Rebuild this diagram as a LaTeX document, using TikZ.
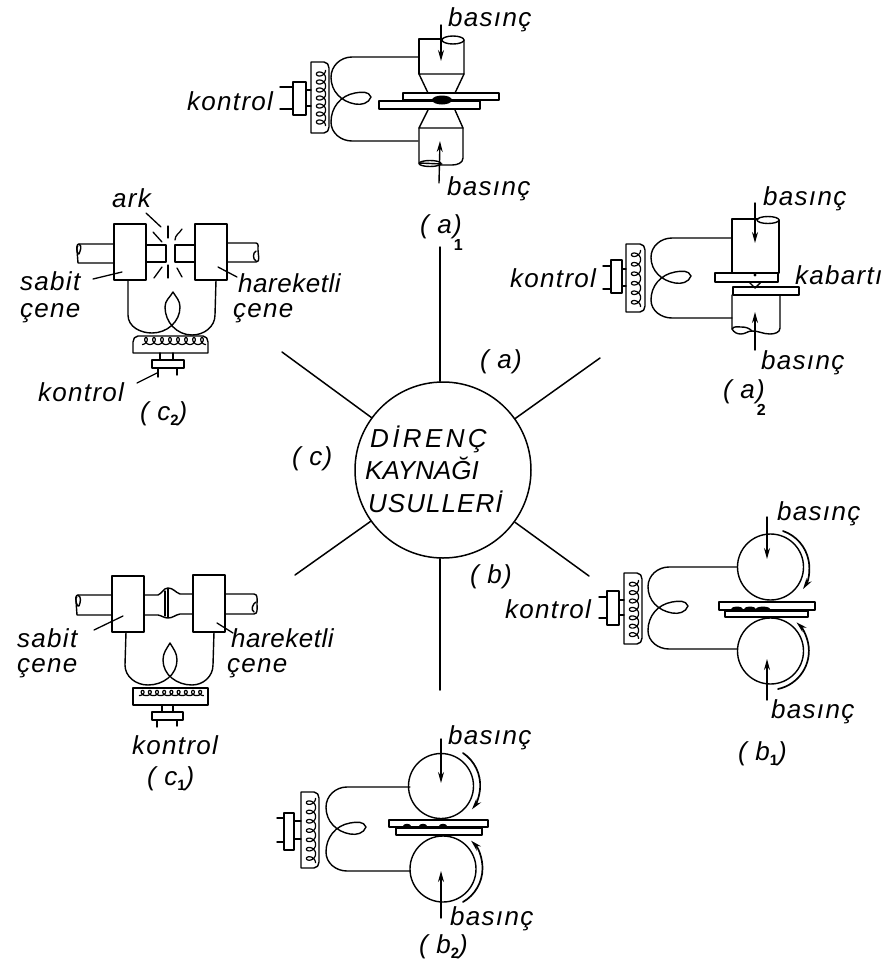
\documentclass[tikz,border=0pt]{standalone}
\usepackage{fontspec}
\setmainfont{Liberation Sans}
\usetikzlibrary{arrows.meta}
\tikzset{
  lw/.style={line width=1.4pt,black,line cap=round,line join=round},
  thin line/.style={line width=1.3pt,black,line cap=round},
  coilline/.style={line width=1.2pt,black},
  lbl/.style={font=\fontsize{26}{26}\selectfont\itshape\addfontfeature{LetterSpace=5},inner sep=0pt,anchor=base west},
  lblc/.style={font=\fontsize{26}{26}\selectfont\itshape\addfontfeature{LetterSpace=2},inner sep=0pt,anchor=base west},
  hubtext/.style={font=\fontsize{26}{26}\selectfont\itshape,inner sep=0pt,anchor=base west},
  press/.style={lw,-{Stealth[length=11pt,width=6pt]}},
  rot/.style={lw,line width=1.7pt,-{Stealth[length=11pt,width=6pt]}},
  hubnode/.style={circle,draw,line width=1.5pt,minimum size=176pt,inner sep=0pt},
  spoke/.style={line width=1.5pt,black,line cap=round},
}
% vertical coil: centre x, start y, turns, pitch
\newcommand{\vcoil}[4]{\draw[coilline,domain=0:360*#3,samples=#3*24,smooth,variable=\t]
  plot ({#1+4.6*cos(\t)},{-(#2+\t/360*#4+3.8*sin(\t))});}
% horizontal coil: start x, centre y, turns, pitch, amplitude
\newcommand{\hcoil}[5]{\draw[coilline,domain=0:360*#3,samples=#3*24,smooth,variable=\t]
  plot ({#1+\t/360*#4+3*sin(\t)},{-(#2+#5*cos(\t))});}
% transformer case: left, right, top, bottom
\newcommand{\vcase}[4]{\draw[lw] (#1,-#3) -- ({#2-5},-#3) to[out=0,in=90] (#2,{-(#3+6)}) -- (#2,{-(#4-6)}) to[out=-90,in=0] ({#2-5},-#4) -- (#1,-#4) -- cycle;}
% control: rect x1,x2,y1,y2, stub x, stub y1,y2, case left
\newcommand{\vctrl}[8]{\draw[lw] (#1,-#3) rectangle (#2,-#4);
  \draw[lw] (#5,-#6) -- (#1,-#6) (#5,-#7) -- (#1,-#7);
  \draw[lw] (#2,{-(#6+3)}) -- (#8,{-(#6+3)}) (#2,{-(#7-3)}) -- (#8,{-(#7-3)});}
% looped secondary: cross x, cross y, end x, half height
\newcommand{\loopw}[4]{\draw[lw] (#3,{-(#2-#4)}) -- ({#1+9},{-(#2-#4)})
  to[out=180,in=90] ({#1-12},{-(#2-0.52*#4)})
  to[out=-90,in=170] ({#1+12},{-(#2+5)})
  to[out=-10,in=-110] ({#1+28},{-(#2-2)})
  to[out=110,in=10] ({#1+12},{-(#2-6)})
  to[out=190,in=90] ({#1-12},{-(#2+0.55*#4)})
  to[out=-90,in=180] ({#1+9},{-(#2+#4)}) -- (#3,{-(#2+#4)});}
\newcommand{\plab}[2]{( #1)\kern-8pt\raisebox{-17pt}{\fontsize{16}{16}\selectfont\bfseries\upshape #2}}
\newcommand{\psub}[2]{( #1\raisebox{-5pt}{\fontsize{15}{15}\selectfont\bfseries\upshape #2})}
\begin{document}
\begin{tikzpicture}[x=1pt,y=1pt]
\useasboundingbox (0,0) rectangle (896,-967);

% ---------- hub
\node[hubnode] (hub) at (443,-470) {};
\coordinate (s1) at (440,-247);
\coordinate (s2) at (600,-358);
\coordinate (s3) at (589,-576);
\coordinate (s4) at (440,-690);
\coordinate (s5) at (295,-575);
\coordinate (s6) at (282,-352);
\foreach \s in {s2,s3,s5,s6} \draw[spoke] (hub) -- (\s);
\draw[spoke] (s1 |- hub.north) -- (s1);
\draw[spoke] (s4 |- hub.south) -- (s4);
\node[hubtext] (h1) at (370,-447) {\addfontfeature{LetterSpace=13}DİRENÇ};
\node[hubtext] (h2) at (365,-479) {KAYNAĞI};
\node[hubtext] (h3) at (368,-512) {\addfontfeature{LetterSpace=4}USULLERİ};
\node[lbl] (la) at (480,-368) {( a)};
\node[lbl] (lb) at (470,-583) {( b)};
\node[lbl] (lc) at (292,-465) {( c)};

% ---------- a1
\vcase{311}{329}{62}{133}
\vcoil{321}{70}{7}{8}
\vctrl{293}{306}{82}{115}{280}{87}{109}{311}
\loopw{343}{99}{418}{42}
\draw[lw] (419,-74) -- (419,-39) -- (442,-39);
\draw[lw] (453,-40) ellipse[x radius=11,y radius=4];
\draw[lw] (464,-40) -- (464,-74) -- (419,-74) -- (428,-93);
\draw[lw] (464,-74) -- (455,-93);
\draw[lw] (403,-93) rectangle (499,-100);
\draw[lw] (379,-101) rectangle (480,-109);
\fill (442,-100) ellipse[x radius=10,y radius=4.5];
\draw[lw] (428,-110) -- (419,-128) -- (463,-128) -- (455,-110);
\draw[lw] (419,-128) -- (419,-163) -- (442,-164);
\draw[lw] (463,-128) -- (463,-158) to[out=-90,in=0] (452,-165) -- (440,-165);
\draw[lw] (430,-163.5) ellipse[x radius=11,y radius=3];
\draw[press] (441,-25) -- (441,-61);
\draw[press] (439,-183) -- (440,-141);
\node[lbl] (a1t) at (448,-26) {basınç};
\node[lbl] (a1b) at (447,-195) {basınç};
\node[lbl] (a1k) at (187,-110) {kontrol};
\node[lbl] (a1n) at (420,-233) {\plab{a}{1}};

% ---------- a2
\vcase{626}{645}{244}{312}
\vcoil{636}{250}{6}{9.5}
\vctrl{611}{622}{260}{293}{603}{266}{289}{626}
\loopw{663}{278}{732}{40}
\draw[lw] (732,-273) -- (732,-219) -- (758,-219);
\draw[lw] (768,-220) ellipse[x radius=11,y radius=3.5];
\draw[lw] (779,-220) -- (779,-273);
\draw[lw] (715,-273) rectangle (778,-282);
\draw[lw] (749,-282) -- (755,-288) -- (761,-282);
\fill (755,-275) circle (1.6);
\draw[lw] (733,-287) rectangle (799,-295);
\draw[lw] (732,-295) -- (732,-329) to[out=-60,in=180] (741,-334) to[out=0,in=180] (752,-331) to[out=0,in=180] (770,-334) to[out=0,in=-90] (780,-328) -- (780,-295);
\draw[lw] (732,-329) to[out=60,in=180] (741,-327) to[out=0,in=135] (752,-331);
\draw[press] (755,-203) -- (755,-243);
\draw[press] (755,-350) -- (755,-312);
\node[lbl] (a2t) at (763,-205) {basınç};
\node[lbl] (a2b) at (761,-369) {basınç};
\node[lbl] (a2k) at (795,-284) {kabartı};
\node[lbl] (a2c) at (510,-287) {kontrol};
\node[lbl] (a2n) at (723,-398) {\plab{a}{2}};

% ---------- b1
\vcase{624}{642}{573}{644}
\vcoil{634}{580}{7}{8.4}
\vctrl{607}{619}{591}{625}{599}{597}{618}{624}
\loopw{660}{608}{737}{41}
\draw[lw] (770.5,-567) circle (33);
\draw[lw] (770.5,-651) circle (33);
\draw[lw] (719,-602) rectangle (815,-610);
\draw[lw] (725,-611) rectangle (808,-617);
\fill (737,-609) ellipse[x radius=6,y radius=2.4] (750,-609) ellipse[x radius=6,y radius=2.4] (763,-609) ellipse[x radius=7,y radius=2.4];
\draw[rot] (783,-531) arc[start angle=71,end angle=-33,radius=39];
\draw[rot] (778,-689) arc[start angle=-78,end angle=47,radius=39];
\draw[press] (767,-517) -- (767,-559);
\draw[press] (767,-700) -- (767,-659);
\node[lbl] (b1t) at (777,-520) {basınç};
\node[lbl] (b1b) at (771,-718) {basınç};
\node[lbl] (b1k) at (505,-618) {kontrol};
\node[lbl] (b1n) at (738,-760) {\psub{b}{1}};

% ---------- b2
\vcase{301}{319}{792}{868}
\vcoil{311}{798}{7}{9.3}
\vctrl{284}{294}{813}{850}{277}{818}{842}{301}
\loopw{338}{829}{410}{42}
\draw[lw] (441,-786) circle (32.5);
\draw[lw] (443,-869) circle (33);
\draw[lw] (389,-820) rectangle (488,-827);
\draw[lw] (396,-828) rectangle (482,-835);
\fill (407,-826) ellipse[x radius=4,y radius=2.2] (423,-826) ellipse[x radius=4,y radius=2.2] (443,-826) ellipse[x radius=4,y radius=2.2];
\draw[rot] (463,-753) arc[start angle=56,end angle=-38,radius=39];
\draw[rot] (463,-902) arc[start angle=-60,end angle=45,radius=39];
\draw[press] (441,-739) -- (441,-783);
\draw[press] (441,-918) -- (441,-871);
\node[lbl] (b2t) at (448,-744) {basınç};
\node[lbl] (b2b) at (450,-925) {basınç};
\node[lbl] (b2n) at (419,-953) {\psub{b}{2}};

% ---------- c2
\draw[lw] (114,-224) rectangle (146,-280);
\draw[lw] (195,-224) rectangle (227,-280);
\draw[lw] (114,-244) -- (79,-244) to[out=180,in=90] (77,-250) -- (78,-263) -- (114,-263);
\draw[lw] (79,-244) to[out=-30,in=70] (79,-254) to[out=250,in=160] (78,-246);
\draw[lw] (227,-243) -- (256,-243) to[out=0,in=90] (258,-250) to[out=-90,in=0] (256,-262) -- (227,-262);
\draw[lw] (256,-251) to[out=-150,in=150] (256,-261);
\draw[lw] (146,-245) -- (166,-245) -- (166,-262) -- (146,-262);
\draw[lw] (195,-245) -- (175,-245) -- (175,-262) -- (195,-262);
\draw[thin line] (168,-226) -- (168,-238) (168,-265) -- (168,-278);
\draw[thin line] (153,-232) -- (162,-242) (182,-229) to[out=-120,in=90] (175,-240);
\draw[thin line] (162,-267) -- (154,-278) (177,-268) -- (182,-277);
\draw[thin line] (146,-213) -- (161,-227);
\draw[lw] (128,-280) -- (128,-315) to[out=-90,in=180] (152,-333) to[out=0,in=-90] (180,-307)
  to[out=90,in=-60] (173,-292) to[out=-120,in=90] (165,-307) to[out=-90,in=180] (192,-335)
  to[out=0,in=-90] (215,-315) -- (216,-280);
\draw[lw] (133,-353) -- (133,-342) to[out=90,in=180] (138,-336) -- (203,-336) to[out=0,in=90] (208,-342) -- (208,-353) -- cycle;
\hcoil{142}{341}{8}{8}{3.5}
\draw[lw] (152,-360) rectangle (184,-368);
\draw[lw] (160,-353) -- (160,-360) (173,-353) -- (173,-360);
\draw[lw] (158,-368) -- (158,-377) (177,-368) -- (177,-375);
\draw[thin line] (137,-383) -- (157,-373);
\draw[thin line] (93,-279) -- (122,-272);
\draw[thin line] (218,-267) -- (237,-277);
\node[lbl] (c2a) at (112,-207) {ark};
\node[lbl] (c2s) at (20,-290) {sabit};
\node[lbl] (c2e) at (20,-317) {çene};
\node[lblc] (c2h) at (238,-292) {hareketli};
\node[lbl] (c2f) at (233,-317) {çene};
\node[lbl] (c2k) at (38,-401) {kontrol};
\node[lbl] (c2n) at (140,-420) {\psub{c}{2}};

% ---------- c1
\draw[lw] (112,-576) rectangle (144,-632);
\draw[lw] (193,-575) rectangle (225,-632);
\draw[lw] (112,-595) -- (78,-595) to[out=180,in=90] (76,-601) -- (77,-615) -- (112,-615);
\draw[lw] (78,-595) to[out=-30,in=70] (79,-606) to[out=250,in=160] (77,-597);
\draw[lw] (225,-594) -- (254,-594) to[out=0,in=90] (257,-604) to[out=-90,in=0] (254,-614) -- (225,-614);
\draw[lw] (256,-602) to[out=-150,in=150] (254,-612);
\draw[lw] (144,-595) -- (158,-595) to[out=20,in=180] (168,-588) to[out=0,in=160] (180,-594) -- (193,-594);
\draw[lw] (144,-615) -- (158,-615) to[out=-10,in=180] (168,-618) to[out=0,in=-170] (180,-614) -- (193,-614);
\draw[line width=2pt,black] (168,-589) -- (168,-618);
\draw[thin line] (165,-591) -- (165,-616);
\draw[lw] (126,-632) -- (125,-665) to[out=-90,in=180] (148,-685) to[out=0,in=-90] (177,-660)
  to[out=90,in=-60] (170,-643) to[out=-120,in=90] (163,-660) to[out=-90,in=180] (192,-685)
  to[out=0,in=-90] (213,-665) -- (214,-632);
\draw[lw] (133,-688) rectangle (208,-705);
\hcoil{139}{693}{9}{7.2}{2.6}
\draw[lw] (152,-712) rectangle (183,-720);
\draw[lw] (162,-705) -- (162,-712) (173,-705) -- (173,-712);
\draw[lw] (157,-720) -- (157,-727) (177,-720) -- (177,-726);
\draw[thin line] (94,-630) -- (123,-616);
\draw[thin line] (217,-623) -- (233,-633);
\node[lbl] (c1s) at (17,-647) {sabit};
\node[lbl] (c1e) at (17,-672) {çene};
\node[lblc] (c1h) at (231,-647) {hareketli};
\node[lbl] (c1f) at (227,-672) {çene};
\node[lbl] (c1k) at (132,-754) {kontrol};
\node[lbl] (c1n) at (147,-785) {\psub{c}{1}};
\end{tikzpicture}
\end{document}
